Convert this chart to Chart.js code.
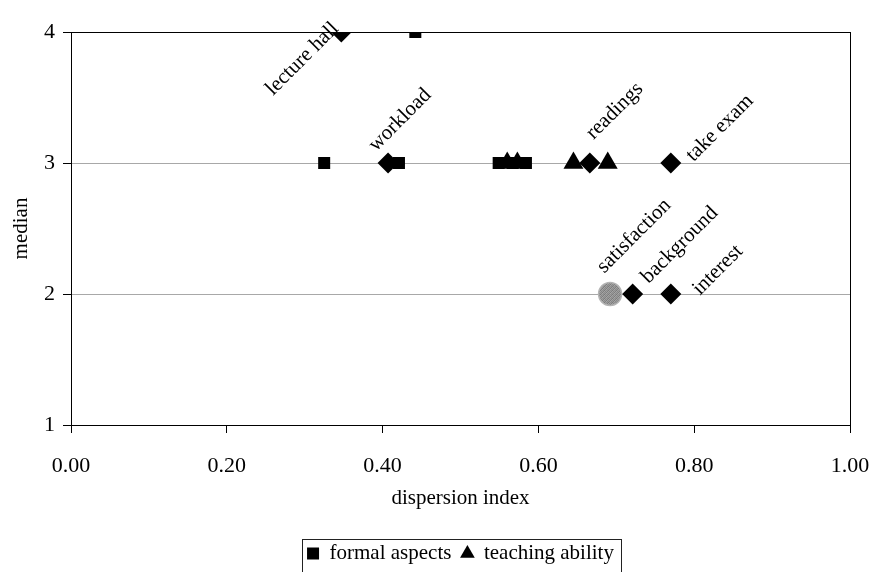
<!DOCTYPE html>
<html>
<head>
<meta charset="utf-8">
<script src="https://cdn.jsdelivr.net/npm/chart.js@4/dist/chart.umd.min.js"></script>
<style>
  html, body { margin: 0; padding: 0; background: #fff; }
  #wrap { width: 872px; height: 572px; }
</style>
</head>
<body>
<div id="wrap"><canvas id="c" width="872" height="572"></canvas></div>
<script>
// Items rated on dispersion index (x) against median (y)
const formalX = [0.325, 0.421, 0.442, 0.549, 0.567, 0.584];
const formalY = [3, 3, 4, 3, 3, 3];

const teachX = [0.560, 0.573, 0.645, 0.689];
const teachY = [3, 3, 3, 3];

const itemNames = ['lecture hall', 'workload', 'readings', 'take exam', 'background', 'interest'];
const itemX = [0.347, 0.407, 0.666, 0.770, 0.721, 0.770];
const itemY = [4, 3, 3, 3, 2, 2];

const satisfactionName = 'satisfaction';
const satisfactionX = [0.692];
const satisfactionY = [2];

const xTicks = [0, 0.2, 0.4, 0.6, 0.8, 1.0];
const yTicks = [1, 2, 3, 4];

// label placement (text centre relative to its point, in px)
const labelShift = {
  'lecture hall': [-39, 27],
  'workload': [12, -43],
  'readings': [25, -52],
  'take exam': [49, -35],
  'satisfaction': [24, -58],
  'background': [47, -49],
  'interest': [47, -24]
};

const SERIF = '"Liberation Serif", "Times New Roman", serif';
const PLOT_BOTTOM = 423;
const BOTTOM_PAD = -2;

function pts(xs, ys) { return xs.map((x, i) => ({ x: x, y: ys[i] })); }

// mottled grey fill for the satisfaction marker
function speckle() {
  const c = document.createElement('canvas');
  c.width = 4; c.height = 4;
  const g = c.getContext('2d');
  const shades = ['#8a8a8a', '#9c9c9c', '#7c7c7c', '#a4a4a4',
                  '#9a9a9a', '#808080', '#a8a8a8', '#888888',
                  '#7a7a7a', '#a0a0a0', '#8e8e8e', '#969696',
                  '#a6a6a6', '#848484', '#9e9e9e', '#7e7e7e'];
  for (let i = 0; i < 16; i++) {
    g.fillStyle = shades[i];
    g.fillRect(i % 4, Math.floor(i / 4), 1, 1);
  }
  return g.createPattern(c, 'repeat');
}

const ctx = document.getElementById('c').getContext('2d');

const itemLabels = {
  id: 'itemLabels',
  afterDatasetsDraw(chart) {
    const c = chart.ctx;
    const xs = chart.scales.x, ys = chart.scales.y;
    c.save();
    c.fillStyle = '#000';
    c.font = '21px ' + SERIF;
    c.textAlign = 'center';
    c.textBaseline = 'middle';
    const put = (name, x, y) => {
      const s = labelShift[name];
      c.save();
      c.translate(xs.getPixelForValue(x) + s[0], ys.getPixelForValue(y) + s[1]);
      c.rotate(-Math.PI / 4);
      c.fillText(name, 0, 0);
      c.restore();
    };
    itemNames.forEach((n, i) => put(n, itemX[i], itemY[i]));
    put(satisfactionName, satisfactionX[0], satisfactionY[0]);
    c.restore();
  }
};

const frame = {
  id: 'frame',
  afterDraw(chart) {
    const a = chart.chartArea;
    const c = chart.ctx;
    c.save();
    c.strokeStyle = '#000';
    c.lineWidth = 1;
    c.strokeRect(Math.round(a.left) + 0.5, Math.round(a.top) + 0.5,
                 Math.round(a.right - a.left), Math.round(a.bottom - a.top));
    // box round the legend
    const lg = chart.legend;
    if (lg && lg.legendHitBoxes && lg.legendHitBoxes.length) {
      const hb = lg.legendHitBoxes;
      const l = hb[0].left - 5;
      const r = hb[hb.length - 1].left + hb[hb.length - 1].width + 7;
      const mid = hb[0].top + hb[0].height / 2;
      c.strokeStyle = '#222';
      c.strokeRect(Math.round(l) + 0.5, Math.round(mid - 15) + 0.5, Math.round(r - l), 60);
    }
    c.restore();
  }
};

new Chart(ctx, {
  type: 'scatter',
  data: {
    datasets: [
      {
        label: 'formal aspects',
        data: pts(formalX, formalY),
        pointStyle: 'rect',
        pointRadius: 8.5,
        backgroundColor: '#000',
        borderColor: '#000',
        borderWidth: 0
      },
      {
        label: 'teaching ability',
        data: pts(teachX, teachY),
        pointStyle: 'triangle',
        pointRadius: 11.5,
        backgroundColor: '#000',
        borderColor: '#000',
        borderWidth: 0
      },
      {
        label: 'items',
        data: pts(itemX, itemY),
        pointStyle: 'rectRot',
        pointRadius: 10.5,
        backgroundColor: '#000',
        borderColor: '#000',
        borderWidth: 0
      },
      {
        label: satisfactionName,
        data: pts(satisfactionX, satisfactionY),
        pointStyle: 'circle',
        pointRadius: 11.5,
        backgroundColor: speckle(),
        borderColor: '#b4b4b4',
        borderWidth: 1.5
      }
    ]
  },
  options: {
    responsive: false,
    animation: false,
    events: [],
    layout: { padding: { left: 0, right: 22, top: 32, bottom: BOTTOM_PAD } },
    plugins: {
      tooltip: { enabled: false },
      legend: {
        position: 'bottom',
        fullSize: false,
        labels: {
          usePointStyle: true,
          boxWidth: 12,
          boxHeight: 12,
          padding: 10,
          color: '#000',
          font: { family: SERIF, size: 21 },
          filter: (item) => item.datasetIndex < 2
        }
      }
    },
    scales: {
      x: {
        type: 'linear',
        min: 0,
        max: 1,
        afterBuildTicks: (s) => { s.ticks = xTicks.map(v => ({ value: v })); },
        afterFit: (s) => {
          const lh = s.chart.legend && s.chart.legend.height ? s.chart.legend.height : 43;
          s.height = s.chart.height - BOTTOM_PAD - PLOT_BOTTOM - lh;
          s.paddingLeft = 0;
          s.paddingRight = 0;
        },
        ticks: {
          color: '#000',
          padding: 20,
          maxRotation: 0,
          font: { family: SERIF, size: 22 },
          callback: (v) => Number(v).toFixed(2)
        },
        grid: {
          drawOnChartArea: false,
          tickLength: 8,
          tickColor: '#000'
        },
        border: { color: '#000', width: 1 },
        title: {
          display: true,
          text: 'dispersion index',
          color: '#000',
          font: { family: SERIF, size: 21 },
          padding: { top: 0, bottom: 22 }
        }
      },
      y: {
        type: 'linear',
        min: 1,
        max: 4,
        afterBuildTicks: (s) => { s.ticks = yTicks.map(v => ({ value: v })); },
        afterFit: (s) => { s.width = 71; },
        ticks: {
          color: '#000',
          padding: 8,
          font: { family: SERIF, size: 22 }
        },
        grid: {
          color: '#a8a8a8',
          lineWidth: 1,
          tickLength: 8,
          tickColor: '#000'
        },
        border: { color: '#000', width: 1 },
        title: {
          display: true,
          text: 'median',
          color: '#000',
          font: { family: SERIF, size: 21 },
          padding: { top: 9, bottom: 0 }
        }
      }
    }
  },
  plugins: [itemLabels, frame]
});
</script>
</body>
</html>
